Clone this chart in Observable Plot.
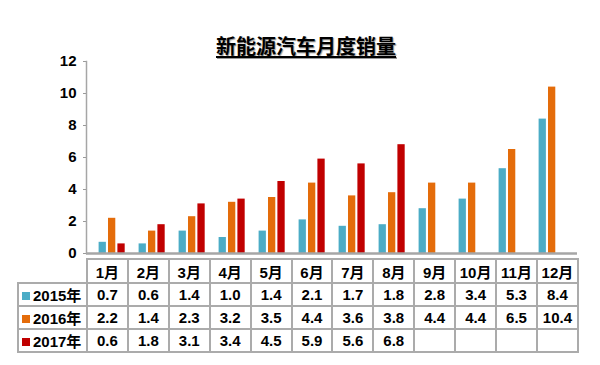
<!DOCTYPE html>
<html>
<head>
<meta charset="utf-8">
<script src="https://cdn.jsdelivr.net/npm/d3@7"></script>
<script src="https://cdn.jsdelivr.net/npm/@observablehq/plot@0.6"></script>
<style>
  html, body { margin: 0; padding: 0; background: #fff; }
  #wrap { position: relative; width: 600px; height: 365px; overflow: hidden;
          font-family: "Liberation Sans", Arial, "Noto Sans CJK SC", sans-serif; }
  #title { position: absolute; top: 31px; left: 0; width: 612px; text-align: center;
           font: bold 20px "Noto Sans CJK SC", sans-serif; color: #000; }
  #title span { text-decoration: underline; text-decoration-thickness: 2px;
                text-underline-offset: 2px; text-shadow: 1px 1px 1px #999; }
  #chart { position: absolute; top: 50px; left: 0; }
  #tbl { position: absolute; top: 258px; left: 17px; border-collapse: collapse;
         table-layout: fixed; font: bold 15px "Liberation Sans", Arial, "Noto Sans CJK SC", sans-serif; }
  #tbl td { border: 2px solid #ababab; padding: 0; text-align: center; color: #000;
            white-space: nowrap; overflow: hidden; }
  #tbl td.corner { border-top-style: hidden; border-left-style: hidden; }
  #tbl td.rh { text-align: left; padding-left: 3px; }
  #tbl .sw { display: inline-block; width: 8px; height: 8px; margin-right: 3px; vertical-align: 1px; }
</style>
</head>
<body>
<div id="wrap">
  <div id="title"><span>新能源汽车月度销量</span></div>
  <div id="chart"></div>
  <table id="tbl"></table>
</div>
<script>
// ---- data ----
const months = ["1月","2月","3月","4月","5月","6月","7月","8月","9月","10月","11月","12月"];
const years = ["2015年","2016年","2017年"];
const sales2015 = [0.7, 0.6, 1.4, 1.0, 1.4, 2.1, 1.7, 1.8, 2.8, 3.4, 5.3, 8.4];
const sales2016 = [2.2, 1.4, 2.3, 3.2, 3.5, 4.4, 3.6, 3.8, 4.4, 4.4, 6.5, 10.4];
const sales2017 = [0.6, 1.8, 3.1, 3.4, 4.5, 5.9, 5.6, 6.8];
const yTicks = [0, 2, 4, 6, 8, 10, 12];
const colors = ["#4BACC6", "#E46C0A", "#C00000"];

const series = [sales2015, sales2016, sales2017];

// ---- layout ----
const W = 600, H = 218, mL = 86, mR = 23, mT = 11, mB = 15;
const bw = (W - mL - mR) / months.length;
const barOff = 6.6, barW = 8.2, barStep = 9.4;

const marks = [
  Plot.axisY({ticks: yTicks, tickSize: 3, tickPadding: 7, stroke: "#999", fill: "#000",
               fontSize: 15, fontWeight: "bold", label: null, tickFormat: d => d}),
  Plot.frame({anchor: "left", stroke: "#a6a6a6", strokeWidth: 1.5}),
];
series.forEach((vals, k) => {
  const rows = vals.map((v, i) => ({month: months[i], value: v}));
  const left = barOff + k * barStep;
  marks.push(Plot.barY(rows, {
    x: "month", y: "value", fill: colors[k],
    insetLeft: left, insetRight: bw - left - barW
  }));
});
marks.push(Plot.ruleY([0], {stroke: "#a6a6a6", strokeWidth: 2.5}));

const chart = Plot.plot({
  width: W, height: H,
  marginLeft: mL, marginRight: mR, marginTop: mT, marginBottom: mB,
  style: {fontFamily: '"Liberation Sans", Arial, sans-serif', background: "transparent"},
  x: {domain: months, padding: 0, axis: null},
  y: {domain: [0, 12], axis: null},
  marks
});
document.getElementById("chart").appendChild(chart);

// ---- data table ----
const tbl = document.getElementById("tbl");
const cg = document.createElement("colgroup");
const c0 = document.createElement("col"); c0.style.width = (mL - 17) + "px"; cg.appendChild(c0);
months.forEach(() => { const c = document.createElement("col"); c.style.width = bw + "px"; cg.appendChild(c); });
tbl.appendChild(cg);
tbl.style.width = (mL - 17 + bw * months.length) + "px";

const hr = document.createElement("tr"); hr.style.height = "24px";
const corner = document.createElement("td"); corner.className = "corner"; hr.appendChild(corner);
months.forEach(m => { const td = document.createElement("td"); td.textContent = m; hr.appendChild(td); });
tbl.appendChild(hr);

series.forEach((vals, k) => {
  const tr = document.createElement("tr"); tr.style.height = "23px";
  const th = document.createElement("td"); th.className = "rh";
  const sw = document.createElement("span"); sw.className = "sw"; sw.style.background = colors[k];
  th.appendChild(sw); th.appendChild(document.createTextNode(years[k]));
  tr.appendChild(th);
  months.forEach((m, i) => {
    const td = document.createElement("td");
    td.textContent = vals[i] !== undefined ? vals[i].toFixed(1) : "";
    tr.appendChild(td);
  });
  tbl.appendChild(tr);
});
</script>
</body>
</html>
